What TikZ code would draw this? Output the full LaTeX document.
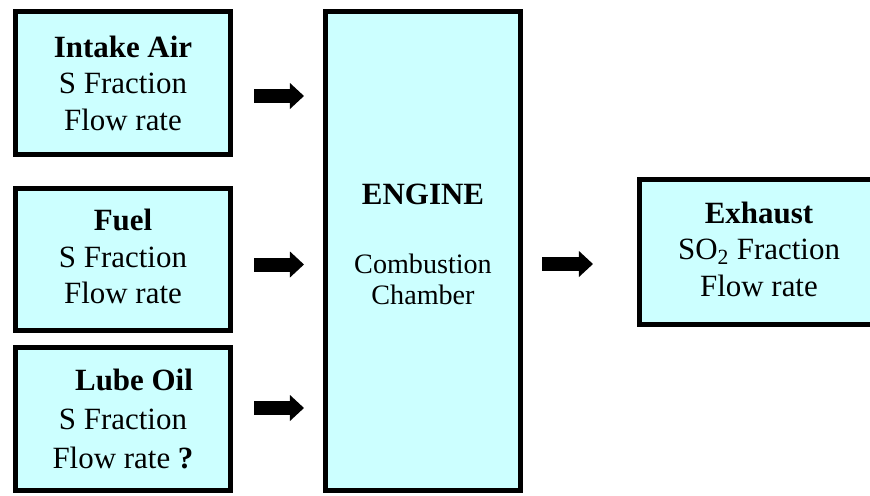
\documentclass[tikz,border=0pt]{standalone}
\usepackage{fontspec}
\setmainfont{Liberation Serif}
\usetikzlibrary{arrows.meta}
\definecolor{boxcyan}{RGB}{204,255,255}

\begin{document}
\begin{tikzpicture}[x=0.025cm,y=-0.025cm,
    box/.style={draw,line width=0.125cm,fill=boxcyan,align=center,
      font=\fontsize{22}{26}\selectfont},
    flow/.style={line width=0.35cm,
      -{Triangle[length=0.35cm,width=0.65cm,line width=0pt]},
      shorten <=0.525cm,shorten >=0.475cm}]
   \useasboundingbox (0,0) rectangle (870,495);
   \node[box,minimum width=5.375cm,minimum height=3.575cm] (Air) at (123,83)
      {\textbf{Intake Air}\\S Fraction\\Flow rate};
   \node[box,minimum width=5.375cm,minimum height=3.55cm] (Fuel) at (123,259.5)
      {\textbf{Fuel}\\S Fraction\\Flow rate\rule[-0.15cm]{0pt}{0pt}};
   \node[box,minimum width=5.375cm,minimum height=3.575cm,
      font=\fontsize{22}{27.7}\selectfont] (Lube) at (123,419)
      {\hspace*{0.55cm}\textbf{Lube Oil}\\S Fraction\\Flow rate \textbf{?}};
   \node[box,minimum width=4.875cm,minimum height=11.975cm,
      font=\fontsize{20}{22}\selectfont] (Engine) at (423,251)
      {{\fontsize{22}{22}\selectfont\bfseries ENGINE}\\[27pt]Combustion\\Chamber\rule[-0.35cm]{0pt}{0pt}};
   \node[box,minimum width=5.975cm,minimum height=3.625cm] (Exhaust) at (759,252)
      {\textbf{Exhaust}\\SO\textsubscript{2} Fraction\\Flow rate\rule[-0.15cm]{0pt}{0pt}};
   \coordinate (AirOut) at ([yshift=-0.325cm]Air.east);
   \coordinate (FuelOut) at ([yshift=-0.125cm]Fuel.east);
   \coordinate (LubeOut) at ([yshift=0.275cm]Lube.east);
   \coordinate (EngineOut) at ([yshift=-0.325cm]Engine.east);
   \path[flow] (AirOut) edge (AirOut -| Engine.west);
   \path[flow] (FuelOut) edge (FuelOut -| Engine.west);
   \path[flow] (LubeOut) edge (LubeOut -| Engine.west);
   \path[flow,shorten <=0.475cm,shorten >=1.1cm] (EngineOut) edge (EngineOut -| Exhaust.west);
\end{tikzpicture}
\end{document}
